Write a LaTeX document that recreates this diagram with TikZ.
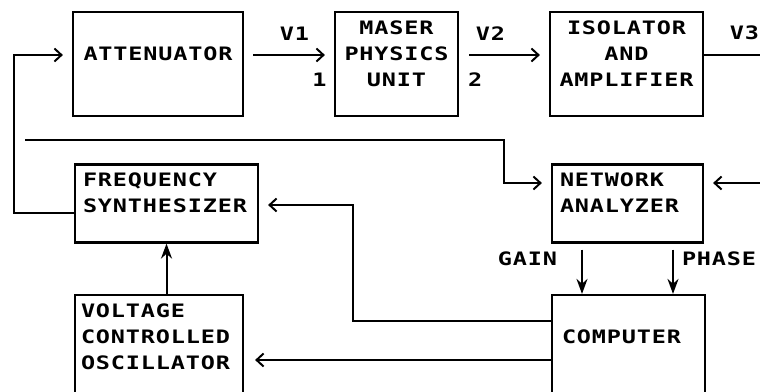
\documentclass[tikz,border=0pt]{standalone}
\usepackage{fontspec}
\usepackage{tikz}
\usetikzlibrary{arrows.meta, positioning}
\newfontfamily\plotfont[FakeStretch=1.27,LetterSpace=4.5]{DejaVu Sans Mono}
\newcommand{\rowstrut}{\rule[-4pt]{0pt}{26pt}}

\tikzset{
  blockbox/.style={draw, line width=2.2pt, inner xsep=8pt, inner ysep=0pt, align=left},
  flow/.style={line width=2pt, -{Straight Barb[length=7pt,width=13pt]}, shorten >=9pt},
  plain/.style={line width=2pt},
  ctrl/.style={line width=2pt, -{Stealth[length=15pt,width=11pt]}},
  sig/.style={inner sep=2pt}
}

\begin{document}
\begin{tikzpicture}[x=1pt, y=-1pt, font=\plotfont\bfseries\fontsize{18.5}{26}\selectfont]
    \clip (0,0) rectangle (760,391);
    % signal chain
    \node[blockbox, align=center, text width=154pt] (att) at (158,64)
      {\rowstrut\\\rowstrut ATTENUATOR\\\rowstrut\\\rowstrut};
    \node[blockbox, align=center, inner xsep=4pt, text width=115pt] (maser) at (396.5,64)
      {\rowstrut MASER\\\rowstrut PHYSICS\\\rowstrut UNIT\\\rowstrut};
    \node[blockbox, align=center, inner xsep=4pt, text width=145pt] (iso) at (626.5,64)
      {\rowstrut ISOLATOR\\\rowstrut AND\\\rowstrut AMPLIFIER\\\rowstrut};
    % control loop
    \node[blockbox, text width=167pt] (synth) at (166.5,203.5)
      {\rowstrut FREQUENCY\\\rowstrut SYNTHESIZER\\\rowstrut};
    \node[blockbox, text width=135pt] (netan) at (627.5,203.5)
      {\rowstrut NETWORK\\\rowstrut ANALYZER\\\rowstrut};
    \node[blockbox, inner xsep=6pt, text width=156pt] (vco) at (159,347)
      {\rowstrut VOLTAGE\\\rowstrut CONTROLLED\\\rowstrut OSCILLATOR\\\rowstrut};
    \node[blockbox, inner xsep=10pt, text width=133pt] (comp) at (628.5,347)
      {\rowstrut\\\rowstrut COMPUTER\\\rowstrut\\\rowstrut};

    \coordinate (v3out) at (760,55);
    \coordinate (v3back) at (760,183);
    \coordinate (refin) at (25,140);
    \coordinate (gaintop) at ([xshift=-45.5pt]netan.south);
    \coordinate (phasetop) at ([xshift=45.5pt]netan.south);

    \draw[flow] ([yshift=-9.5pt]synth.west) -- ++(-60,0) |- ([yshift=9pt]att.west);
    \draw[flow, shorten <=9pt] ([yshift=9pt]att.east) --
      node[sig, pos=0.56, above=12pt] {V1} node[sig, pos=0.84, below=15pt] {1} ([yshift=9pt]maser.west);
    \draw[flow, shorten <=10pt] ([yshift=9pt]maser.east) --
      node[sig, pos=0.35, above=12pt] {V2} node[sig, pos=0.18, below=15pt] {2} ([yshift=9pt]iso.west);
    \draw[plain] ([yshift=9pt]iso.east) -- node[sig, pos=0.72, above=12pt] {V3} (v3out);
    \draw[flow] (v3back) -- ([yshift=20.5pt]netan.east);
    \draw[flow] (refin) -| ([xshift=-47pt,yshift=20.5pt]netan.west) -- ([yshift=20.5pt]netan.west);
    \draw[ctrl, shorten <=6pt] (gaintop) -- node[sig, pos=0.3, left=22pt] {GAIN} (gaintop |- comp.north);
    \draw[ctrl, shorten <=6pt] (phasetop) -- node[sig, pos=0.3, right=6pt] {PHASE} (phasetop |- comp.north);
    \draw[flow] ([yshift=26.5pt]comp.west) -| ([xshift=94pt,yshift=-1.5pt]synth.east) -- ([yshift=-1.5pt]synth.east);
    \draw[flow, shorten >=11pt] ([yshift=-13pt]comp.west) -- ([yshift=-13pt]vco.east);
    \draw[ctrl] (synth.south |- vco.north) -- (synth.south);
  \end{tikzpicture}
\end{document}
